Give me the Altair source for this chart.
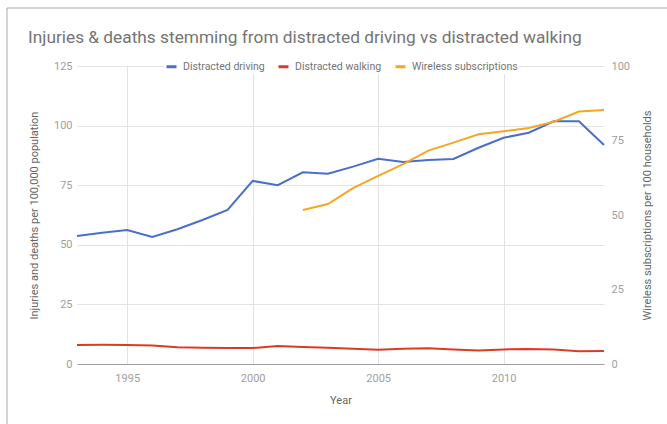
import altair as alt
import pandas as pd

# Years covered by the driving / walking series
years = list(range(1993, 2015))

# Injuries and deaths per 100,000 population
driving = [53.7, 55.1, 56.2, 53.3, 56.5, 60.4, 64.6, 76.8, 75.0, 80.4, 79.8,
           82.8, 86.1, 84.7, 85.6, 86.0, 90.7, 94.9, 97.0, 101.8, 101.8, 91.9]
walking = [8.0, 8.1, 8.0, 7.8, 7.0, 6.8, 6.7, 6.7, 7.6, 7.1, 6.8,
           6.4, 6.0, 6.4, 6.6, 6.1, 5.7, 6.1, 6.3, 6.1, 5.3, 5.5]

# Wireless subscriptions per 100 households
wireless_years = list(range(2002, 2015))
wireless = [51.7, 53.7, 59.0, 63.1, 67.1, 71.6, 74.3, 77.1, 78.1, 79.2, 81.3, 84.7, 85.2]

series_names = ["Distracted driving", "Distracted walking", "Wireless subscriptions"]
series_colors = ["#4a6fcb", "#db3b25", "#f5a623"]

left_df = pd.concat([
    pd.DataFrame({"Year": years, "value": driving, "series": series_names[0]}),
    pd.DataFrame({"Year": years, "value": walking, "series": series_names[1]}),
])
right_df = pd.DataFrame({"Year": wireless_years, "value": wireless, "series": series_names[2]})

FONT = "Roboto"
LABEL_GRAY = "#9e9e9e"
TITLE_GRAY = "#666666"

color = alt.Color(
    "series:N",
    scale=alt.Scale(domain=series_names, range=series_colors),
    legend=alt.Legend(
        title=None,
        orient="none",
        legendX=87,
        legendY=-7,
        direction="horizontal",
        symbolType="stroke",
        symbolStrokeWidth=3,
        symbolSize=100,
        labelFontSize=10.5,
        labelColor="#757575",
        labelFont=FONT,
        labelOffset=5,
        columnPadding=7,
        fillColor="white",
        padding=1,
    ),
)

x_enc = alt.X(
    "Year:Q",
    scale=alt.Scale(domain=[1993, 2014], nice=False, zero=False),
    axis=alt.Axis(
        title="Year",
        values=[1995, 2000, 2005, 2010],
        format="d",
        ticks=False,
        domainColor="#9e9e9e",
        domainWidth=1.2,
        gridColor="#e3e3e3",
        labelPadding=8,
        titlePadding=11,
    ),
)

left = alt.Chart(left_df).mark_line(strokeWidth=2).encode(
    x=x_enc,
    y=alt.Y(
        "value:Q",
        scale=alt.Scale(domain=[0, 125], nice=False),
        axis=alt.Axis(
            title="Injuries and deaths per 100,000 population",
            values=[0, 25, 50, 75, 100, 125],
            ticks=False,
            domain=False,
            gridColor="#e3e3e3",
            labelPadding=5,
            titlePadding=14,
        ),
    ),
    color=color,
    detail="series:N",
)

right = alt.Chart(right_df).mark_line(strokeWidth=2).encode(
    x=x_enc,
    y=alt.Y(
        "value:Q",
        scale=alt.Scale(domain=[0, 100], nice=False),
        axis=alt.Axis(
            title="Wireless subscriptions per 100 households",
            orient="right",
            values=[0, 25, 50, 75, 100],
            ticks=False,
            domain=False,
            grid=False,
            labelPadding=7,
            titlePadding=23,
            titleAngle=270,
        ),
    ),
    color=color,
)

# Thin gray frame along the top and left edges of the card
frame_src = alt.Data(values=[{"k": 0}])
frame_left = alt.Chart(frame_src).mark_rule(color="#a8a8a8", strokeWidth=1).encode(
    x=alt.value(-70), y=alt.value(-58), y2=alt.value(370)
)
frame_top = alt.Chart(frame_src).mark_rule(color="#a8a8a8", strokeWidth=1).encode(
    x=alt.value(-70), x2=alt.value(600), y=alt.value(-58)
)

chart = (
    alt.layer(left, right, frame_left, frame_top)
    .resolve_scale(y="independent")
    .properties(
        width=527,
        height=298,
        background="white",
        padding={"left": 77, "top": 66, "right": 63, "bottom": 60},
        autosize=alt.AutoSizeParams(type="none"),
        title=alt.TitleParams(
            "Injuries & deaths stemming from distracted driving vs distracted walking",
            anchor="start",
            frame="group",
            dx=-49,
            fontSize=17.3,
            fontWeight="normal",
            font=FONT,
            color="#757575",
            offset=-39,
        ),
    )
    .configure_view(stroke=None)
    .configure_axis(
        labelFont=FONT,
        labelFontSize=11,
        labelColor=LABEL_GRAY,
        titleFont=FONT,
        titleFontSize=11,
        titleFontWeight="normal",
        titleColor=TITLE_GRAY,
    )
)

chart.save("out.html", embed_options={"renderer": "svg", "actions": False})
